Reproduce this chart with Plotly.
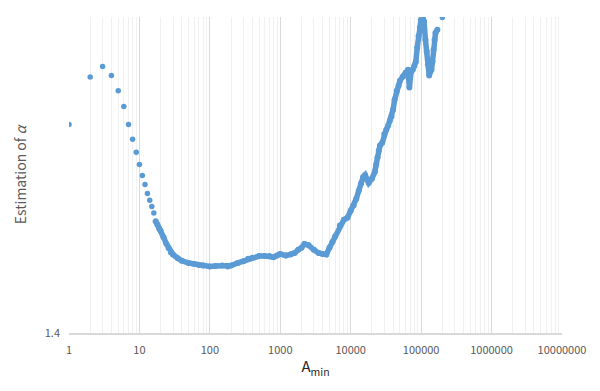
import plotly.graph_objects as go

# Sparse region: integer A_min values
a_sparse = list(range(1, 17))
alpha_sparse = [1.796, 1.886, 1.906, 1.889, 1.860, 1.830, 1.796, 1.768, 1.743, 1.720,
                1.699, 1.682, 1.665, 1.652, 1.640, 1.628]

# Dense region
a_dense = [17, 18, 19, 20, 22, 24, 26, 28, 30, 35, 40, 50, 60, 70, 80, 100, 120, 150, 180, 200,
           250, 300, 350, 400, 500, 600, 700, 800, 900, 1000, 1200, 1400, 1600, 1800, 2000,
           2200, 2500, 3000, 3500, 4000, 4500, 5000, 5500, 6000, 7000, 8000, 9000, 10000,
           11000, 12000, 13000, 14000, 15000, 16000, 17000, 18000, 20000, 22000, 23000, 24000,
           25000, 26000, 28000, 30000, 32000, 34000, 36000, 38000, 40000, 42000, 45000, 48000,
           50000, 55000, 60000, 65000, 68000, 72000, 76000, 80000, 84000, 88000, 92000, 96000,
           100000, 105000, 110000, 115000, 120000, 125000, 130000, 135000, 140000, 145000,
           150000, 155000, 160000, 170000]
alpha_dense = [1.612, 1.606, 1.599, 1.594, 1.582, 1.570, 1.561, 1.553, 1.549, 1.542, 1.537,
               1.533, 1.531, 1.529, 1.528, 1.5265, 1.527, 1.528, 1.5265, 1.528,
               1.533, 1.536, 1.541, 1.543, 1.546, 1.546, 1.546, 1.544, 1.547, 1.550, 1.547,
               1.549, 1.552, 1.558, 1.562, 1.569, 1.567, 1.558, 1.552, 1.550, 1.549, 1.562,
               1.573, 1.583, 1.604, 1.615, 1.619, 1.632, 1.642, 1.655, 1.670, 1.684, 1.696,
               1.700, 1.691, 1.685, 1.693, 1.706, 1.720, 1.733, 1.746, 1.756, 1.761, 1.778,
               1.786, 1.794, 1.803, 1.811, 1.824, 1.843, 1.860, 1.870, 1.879, 1.887, 1.894,
               1.900, 1.866, 1.896, 1.900, 1.907, 1.915, 1.942, 1.964, 1.980, 1.995, 2.001,
               1.991, 1.957, 1.934, 1.910, 1.889, 1.896, 1.900, 1.915, 1.938, 1.957, 1.970,
               1.976]

# Isolated points near the top
a_iso = [200000]
alpha_iso = [1.999]

x_ticks = [1, 10, 100, 1000, 10000, 100000, 1000000, 10000000]
x_tick_labels = ["1", "10", "100", "1000", "10000", "100000", "1000000", "10000000"]
y_ticks = [1.4]
y_tick_labels = ["1.4"]

minor_vals = [m * 10 ** d for d in range(0, 7) for m in range(2, 10)]

BLUE = "#5B9BD5"
FONT = "Noto Sans CJK KR"

fig = go.Figure()
fig.add_trace(go.Scatter(x=a_dense, y=alpha_dense, mode="lines+markers",
                         line=dict(color=BLUE, width=5.5),
                         marker=dict(color=BLUE, size=6), showlegend=False))
fig.add_trace(go.Scatter(x=a_sparse, y=alpha_sparse, mode="markers",
                         marker=dict(color=BLUE, size=5.5), showlegend=False))
fig.add_trace(go.Scatter(x=a_iso, y=alpha_iso, mode="markers",
                         marker=dict(color=BLUE, size=5.5), showlegend=False))

fig.update_layout(
    width=600, height=391,
    margin=dict(l=69, r=38, t=17, b=58),
    paper_bgcolor="white", plot_bgcolor="white",
    font=dict(family=FONT, color="#595959", size=11),
    xaxis=dict(
        type="log", range=[0, 7],
        tickmode="array", tickvals=x_ticks, ticktext=x_tick_labels,
        showgrid=True, gridcolor="#d9d9d9", gridwidth=1,
        minor=dict(tickmode="array", tickvals=minor_vals, showgrid=True,
                   gridcolor="#f0f0f0", gridwidth=1, ticks=""),
        showline=True, linecolor="#d9d9d9", linewidth=1.5,
        zeroline=False, ticks="", ticklabelstandoff=6,
        tickfont=dict(size=11, color="#595959"),
        title=dict(text="A<sub>min</sub>", font=dict(size=15, color="#262626"), standoff=6),
    ),
    yaxis=dict(
        range=[1.4, 2.0],
        tickmode="array", tickvals=y_ticks, ticktext=y_tick_labels,
        showgrid=False, zeroline=False, showline=False, ticks="",
        ticklabelstandoff=8,
        tickfont=dict(size=11, color="#595959"),
        title=dict(text="Estimation of <i>α</i>", font=dict(size=14, color="#595959"), standoff=14),
    ),
)

fig.write_html("out.html")
